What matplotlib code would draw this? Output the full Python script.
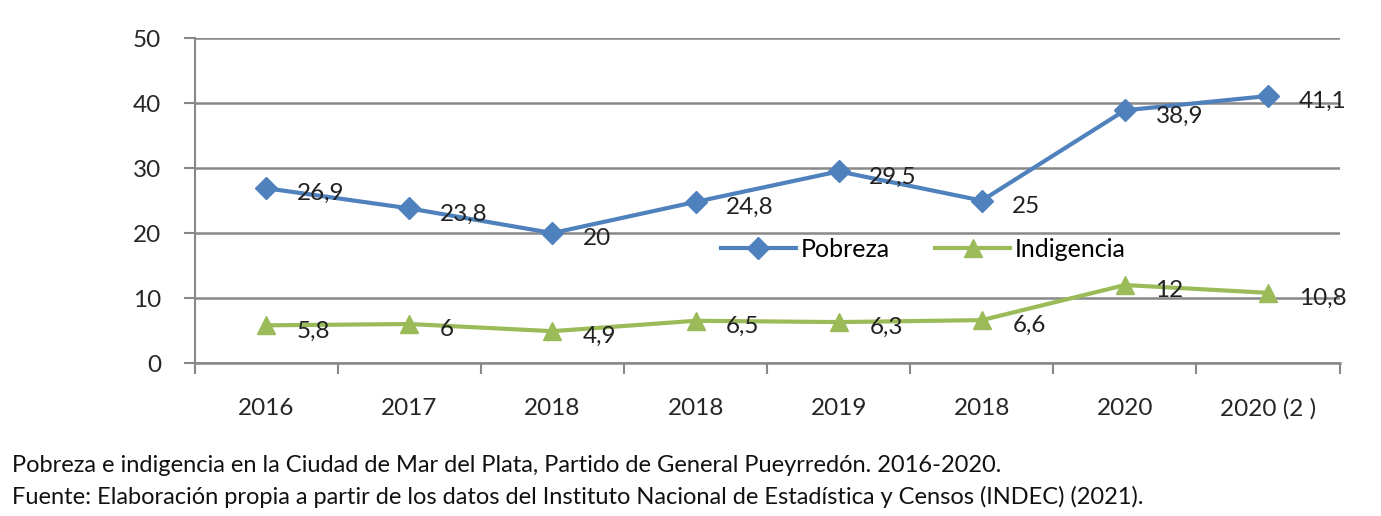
import matplotlib.pyplot as plt

categorias = ["2016", "2017", "2018", "2018", "2019", "2018", "2020", "2020 (2 )"]
pobreza = [26.9, 23.8, 20, 24.8, 29.5, 25, 38.9, 41.1]
indigencia = [5.8, 6, 4.9, 6.5, 6.3, 6.6, 12, 10.8]
etiquetas_pob = ["26,9", "23,8", "20", "24,8", "29,5", "25", "38,9", "41,1"]
etiquetas_ind = ["5,8", "6", "4,9", "6,5", "6,3", "6,6", "12", "10,8"]

azul = "#4F81BD"
verde = "#9BBB59"
fuente = ["Lato", "DejaVu Sans"]

fig = plt.figure(figsize=(13.81, 5.16), dpi=100)
ax = fig.add_axes([0.141, 0.2965, 0.829, 0.6295])

x = list(range(len(categorias)))
ax.plot(x, pobreza, color=azul, lw=3, marker="D", ms=11, label="Pobreza", zorder=3)
ax.plot(x, indigencia, color=verde, lw=3, marker="^", ms=13, label="Indigencia", zorder=3)

for xi, v, t in zip(x, pobreza, etiquetas_pob):
    ax.annotate(t, (xi, v), xytext=(22, -4), textcoords="offset points",
                ha="left", va="center", fontsize=17.5, color="#222222", family=fuente)
for xi, v, t in zip(x, indigencia, etiquetas_ind):
    ax.annotate(t, (xi, v), xytext=(22, -4), textcoords="offset points",
                ha="left", va="center", fontsize=17.5, color="#222222", family=fuente)

ax.set_xlim(-0.5, len(categorias) - 0.5)
ax.set_ylim(0, 50)
ax.set_yticks(range(0, 51, 10))
ax.set_xticks(x)
ax.set_xticklabels(categorias)
ax.set_xticks([i - 0.5 for i in range(len(categorias) + 1)], minor=True)
ax.tick_params(axis="x", which="major", length=0, pad=25)
ax.tick_params(axis="x", which="minor", length=8, width=1.5, color="#888888")
ax.tick_params(axis="y", length=8, width=1.5, color="#888888", pad=16)
for lab in ax.get_xticklabels() + ax.get_yticklabels():
    lab.set_fontsize(17.5)
    lab.set_family(fuente)
    lab.set_color("#262626")

ax.grid(axis="y", color="#888888", lw=1.8)
ax.set_axisbelow(True)
for lado in ["top", "right"]:
    ax.spines[lado].set_visible(False)
ax.spines["left"].set_color("#888888")
ax.spines["left"].set_linewidth(1.5)
ax.spines["bottom"].set_color("#888888")
ax.spines["bottom"].set_linewidth(1.8)

ax.legend(loc="center left", bbox_to_anchor=(0.44, 0.35), ncol=2, frameon=False,
          prop={"family": fuente, "size": 18}, handlelength=3, columnspacing=1.8,
          handletextpad=0.2)

fig.text(0.009, 0.097, "Pobreza e indigencia en la Ciudad de Mar del Plata, Partido de General Pueyrredón. 2016-2020.",
         fontsize=17, family=fuente, va="center", color="#111111")
fig.text(0.009, 0.037, "Fuente: Elaboración propia a partir de los datos del Instituto Nacional de Estadística y Censos (INDEC) (2021).",
         fontsize=17, family=fuente, va="center", color="#111111")

fig.savefig("out.png", dpi=100)
